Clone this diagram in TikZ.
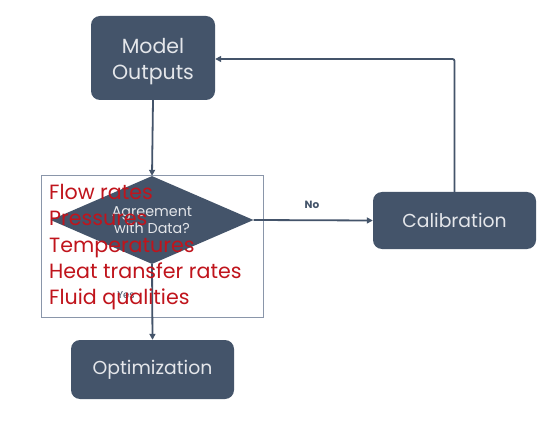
\documentclass[tikz,border=0pt]{standalone}
\usepackage{fontspec}
\setmainfont{Poppins}
\usetikzlibrary{arrows.meta,shapes.geometric}
\definecolor{slate}{HTML}{44546A}
\definecolor{boxtext}{HTML}{E4E6EA}
\definecolor{redtext}{HTML}{C0141C}
\definecolor{frame}{HTML}{8A96AA}
\tikzset{
  box/.style={draw=none, fill=slate, rounded corners=9pt, text=boxtext, align=center, inner sep=0pt, font=\fontsize{18.8}{26}\selectfont},
  conn/.style={draw=slate, line width=1.8pt, -{Triangle[length=6pt,width=6pt]}},
  lbl/.style={font=\fontsize{10.5}{12}\selectfont\bfseries, text=slate}
}
\begin{document}
\begin{tikzpicture}[x=1pt,y=-1pt]
\useasboundingbox (0,0) rectangle (546,422);
\fill[white] (0,0) rectangle (546,422);
% frame around the list
\node[draw=frame, line width=0.8pt, minimum width=222pt, minimum height=142pt, inner sep=0pt] (frame) at (152,246) {};
% boxes
\node[box, minimum width=124pt, minimum height=84pt] (model) at (153,58) {};
\node[text=boxtext, align=center, inner sep=0pt, font=\fontsize{20.5}{26}\selectfont] (modeltxt) at (153,61.5) {Model\\Outputs};
\node[box, minimum width=163pt, minimum height=57pt] (calib) at (454.5,220.5) {Calibration};
\node[box, minimum width=163pt, minimum height=59pt] (optim) at (152.5,369.5) {Optimization};
% decision
\node[diamond, fill=slate, minimum width=203pt, minimum height=88pt, shape aspect=2.3, inner sep=0pt, text=boxtext, align=center, font=\fontsize{14.3}{17}\selectfont] (dec) at (152,220) {Agreement\\with Data?};
% connectors
\draw[conn] (model.south) -- (dec.north);
\draw[conn] (dec.east) -- (calib.west);
\node[lbl] (no) at (312,205) {No};
\draw[conn] (dec.south) -- (optim.north);
\node[font=\fontsize{10}{12}\selectfont, text=slate] (yes) at (126,295) {Yes};
\coordinate (turn) at (calib.north |- 0,59);
\draw[conn, rounded corners=2pt] (calib.north) -- (turn) -- (model.east |- turn);
% red list
\node[anchor=north west, align=left, text=redtext, inner sep=0pt, font=\fontsize{20.6}{26.3}\selectfont] (list) at (49,184) {Flow rates\\Pressures\\Temperatures\\Heat transfer rates\\Fluid qualities};
\end{tikzpicture}
\end{document}
